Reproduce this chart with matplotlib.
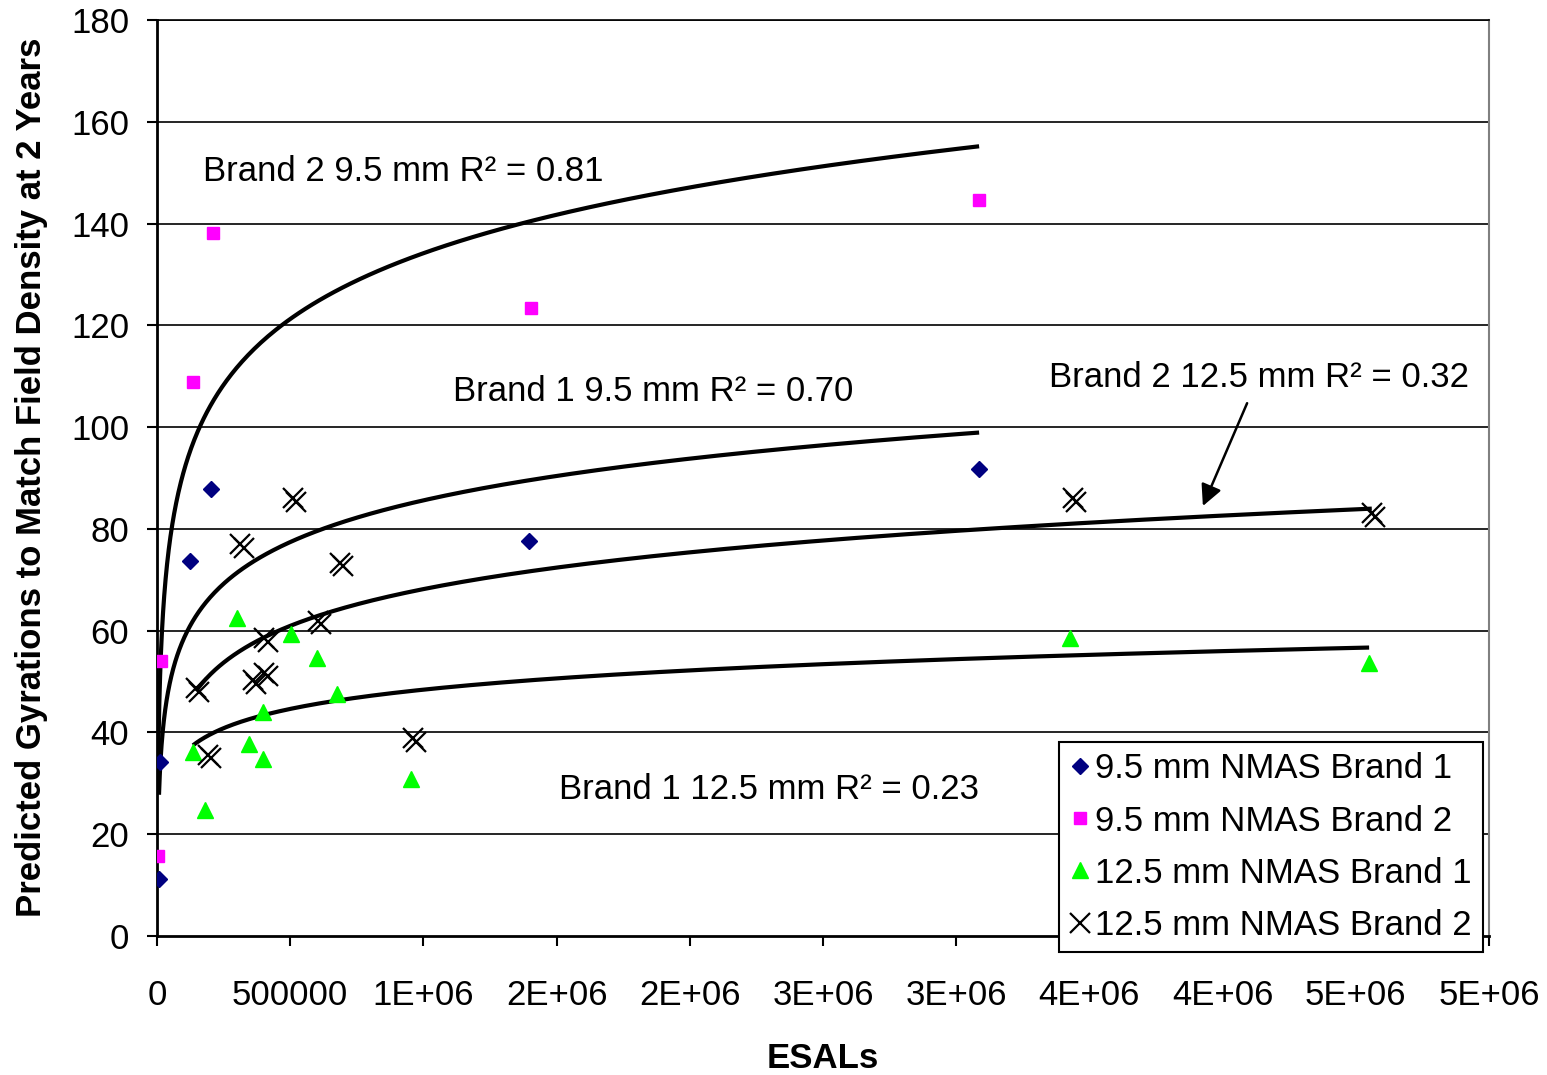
import numpy as np
import matplotlib
matplotlib.use("Agg")
import matplotlib.pyplot as plt
import matplotlib.transforms as mtransforms

plt.rcParams['font.family'] = ['Liberation Sans', 'DejaVu Sans']

# ESALs and predicted gyrations
b1_95_x = [7500, 11000, 124000, 203000, 1396000, 3086000]
b1_95_y = [11.2, 34.2, 73.7, 87.8, 77.6, 91.7]

b2_95_x = [4000, 15000, 135000, 210000, 1404000, 3086000]
b2_95_y = [15.7, 54.0, 108.8, 138.1, 123.4, 144.6]

b1_125_x = [135000, 180000, 300000, 345000, 398000, 398000, 503000, 600000,
            676000, 953000, 3427000, 4550000]
b1_125_y = [36.1, 24.8, 62.5, 37.7, 44.0, 34.8, 59.3, 54.6,
            47.5, 30.8, 58.5, 53.6]

b2_125_x = [146000, 191000, 312000, 402000, 360000, 402000, 510000, 604000,
            687000, 961000, 3438000, 4560000]
b2_125_y = [48.7, 35.6, 77.0, 58.5, 50.3, 51.7, 86.0, 61.9,
            73.3, 38.9, 86.0, 83.1]

series_labels = ["9.5 mm NMAS Brand 1", "9.5 mm NMAS Brand 2",
                 "12.5 mm NMAS Brand 1", "12.5 mm NMAS Brand 2"]
fit_labels = ["Brand 1 9.5 mm R\u00b2 = 0.70", "Brand 2 9.5 mm R\u00b2 = 0.81",
              "Brand 1 12.5 mm R\u00b2 = 0.23", "Brand 2 12.5 mm R\u00b2 = 0.32"]

x_ticks = np.arange(0, 5000001, 500000)
x_tick_labels = ["0", "500000", "1E+06", "2E+06", "2E+06", "3E+06",
                 "3E+06", "4E+06", "4E+06", "5E+06", "5E+06"]

FS = 25


def log_fit(x, y):
    x = np.asarray(x, float)
    a, b = np.polyfit(np.log(x), np.asarray(y, float), 1)
    xs = np.geomspace(x.min(), x.max(), 300)
    return xs, a * np.log(xs) + b


fig = plt.figure(figsize=(15.47, 10.75), dpi=100)
ax = fig.add_axes([157 / 1547, 1 - 936 / 1075, (1489 - 157) / 1547, (936 - 20) / 1075])

for y in range(20, 181, 20):
    ax.axhline(y, color='black', lw=1.2, zorder=0)

# trend lines
for xs, ys in [log_fit(b1_95_x, b1_95_y), log_fit(b2_95_x, b2_95_y),
               log_fit(b1_125_x, b1_125_y), log_fit(b2_125_x, b2_125_y)]:
    ax.plot(xs, ys, color='black', lw=3, zorder=2, solid_capstyle='butt')

ax.plot(b1_95_x, b1_95_y, 'D', color='#000080', ms=8, mec='#000080', ls='none', zorder=3,
        label=series_labels[0])
ax.plot(b2_95_x, b2_95_y, 's', color='#FF00FF', ms=9, mec='#FF00FF', ls='none', zorder=3,
        label=series_labels[1])
ax.plot(b1_125_x, b1_125_y, '^', color='#00FF00', ms=12, mec='#00FF00', ls='none', zorder=3,
        label=series_labels[2])
ax.plot(b2_125_x, b2_125_y, 'x', color='black', ms=14, mew=1.6, ls='none', zorder=3,
        label=series_labels[3])
shift = mtransforms.offset_copy(ax.transData, fig=fig, x=2.5, y=-2.5, units='points')
ax.plot(b2_125_x, b2_125_y, 'x', color='black', ms=14, mew=1.6, ls='none', zorder=3,
        transform=shift)

ax.set_xlim(0, 5000000)
ax.set_ylim(0, 180)
ax.set_xticks(x_ticks)
ax.set_xticklabels(x_tick_labels)
ax.set_yticks(range(0, 181, 20))
ax.tick_params(axis='both', direction='out', length=7, width=1.5, labelsize=FS,
               color='black')
ax.tick_params(axis='x', pad=24)
ax.tick_params(axis='y', pad=13)

for side in ['left', 'bottom']:
    ax.spines[side].set_linewidth(2)
ax.spines['top'].set_linewidth(1.2)
ax.spines['right'].set_color('#808080')
ax.spines['right'].set_linewidth(1.5)

fig.text(823 / 1547, 1 - 1058 / 1075, "ESALs", fontsize=FS, fontweight='bold',
         ha='center', va='center')
fig.text(32 / 1547, 1 - 477 / 1075, "Predicted Gyrations to Match Field Density at 2 Years",
         fontsize=FS, fontweight='bold', rotation=90, ha='center', va='center')

ax.text(172700, 150.2, fit_labels[1], fontsize=FS, va='center')
ax.text(1111000, 106.9, fit_labels[0], fontsize=FS, va='center')
ax.text(3348000, 109.8, fit_labels[3], fontsize=FS, va='center')
ax.text(1509000, 28.8, fit_labels[2], fontsize=FS, va='center')
ax.annotate("", xy=(3926000, 84.5), xytext=(4092000, 104.7),
            arrowprops=dict(arrowstyle='-|>', color='black', lw=1.8,
                            mutation_scale=32, shrinkA=0, shrinkB=0))

leg = ax.legend(loc='upper left', bbox_to_anchor=((1059 - 157) / 1332, (936 - 742) / 916),
                fontsize=FS, frameon=True, fancybox=False, edgecolor='black',
                framealpha=1, handlelength=0.6, handletextpad=0.15, borderpad=0.3,
                labelspacing=0.55, borderaxespad=0)
leg.get_frame().set_linewidth(1.5)
leg.set_zorder(5)

fig.savefig("out.png", dpi=100)
